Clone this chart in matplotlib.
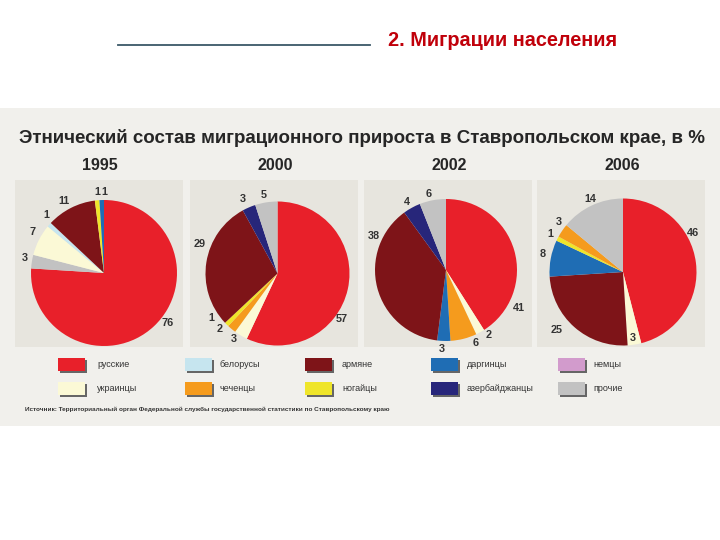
import numpy as np
import matplotlib
matplotlib.use("Agg")
import matplotlib.pyplot as plt
from matplotlib.patches import Rectangle

plt.rcParams['font.family'] = ['Liberation Sans', 'DejaVu Sans']

# --- data ---
colors = {
    'русские': '#e8202a',
    'украинцы': '#fbf9d6',
    'белорусы': '#c6e5ef',
    'чеченцы': '#f59b1d',
    'армяне': '#7e1418',
    'ногайцы': '#efe52a',
    'даргинцы': '#1f6db4',
    'азербайджанцы': '#27267a',
    'немцы': '#d29bcc',
    'прочие': '#c2c2c2',
}

years = ['1995', '2000', '2002', '2006']

# slices clockwise from 12 o'clock
groups_1995 = ['русские', 'прочие', 'украинцы', 'белорусы', 'армяне', 'ногайцы', 'даргинцы']
values_1995 = [76, 3, 7, 1, 11, 1, 1]

groups_2000 = ['русские', 'украинцы', 'чеченцы', 'ногайцы', 'армяне', 'азербайджанцы', 'прочие']
values_2000 = [57, 3, 2, 1, 29, 3, 5]

groups_2002 = ['русские', 'украинцы', 'чеченцы', 'даргинцы', 'армяне', 'азербайджанцы', 'прочие']
values_2002 = [41, 2, 6, 3, 38, 4, 6]

groups_2006 = ['русские', 'украинцы', 'армяне', 'даргинцы', 'ногайцы', 'чеченцы', 'прочие']
values_2006 = [46, 3, 25, 8, 1, 3, 14]

pie_groups = [groups_1995, groups_2000, groups_2002, groups_2006]
pie_values = [values_1995, values_2000, values_2002, values_2006]

legend_row1 = ['русские', 'белорусы', 'армяне', 'даргинцы', 'немцы']
legend_row2 = ['украинцы', 'чеченцы', 'ногайцы', 'азербайджанцы', 'прочие']

# --- layout (pixels) ---
W, H = 720, 540
# where the value labels sit around each pie (angle in degrees, distance in px)
label_angle = [
    [-38, 169, 150, 135, 119, 95, 90],
    [-35, -124, -136, -146, 159, 115, 100],
    [-28, -57, -68, -93, 155, 120, 103],
    [29, -82, -139, 167, 152, 142, 114],
]
label_dist = [
    [81, 81, 82, 82, 82, 81, 81],
    [79, 79, 80, 80, 83, 82, 80],
    [82, 78, 79, 79, 80, 78, 78],
    [80, 67, 88, 82, 82, 82, 80],
]

fig = plt.figure(figsize=(7.2, 5.4), dpi=100)
fig.patch.set_facecolor('white')

bg = fig.add_axes([0, 0, 1, 1])
bg.set_xlim(0, W)
bg.set_ylim(H, 0)
bg.axis('off')

# slide header
bg.plot([118, 370], [45, 45], color='#3b5868', lw=1.3)
bg.text(388, 41, '2. Миграции населения', color='#c0000a', fontsize=14.3,
        fontweight='bold', va='center', ha='left')

# picture panel
bg.add_patch(Rectangle((0, 108), W, 318, facecolor='#f1f0ec', edgecolor='none'))
bg.text(362, 138, 'Этнический состав миграционного прироста в Ставропольском крае, в %',
        color='#262626', fontsize=13.5, fontweight='bold', ha='center', va='center')

panel_x = [15, 190, 364, 537]
panel_w = 168
centers = [(104, 273), (277.5, 273.5), (446, 270), (623, 272)]
radii = [73, 72, 71, 73.5]

for i in range(4):
    bg.add_patch(Rectangle((panel_x[i], 180), panel_w, 167,
                           facecolor='#e7e5de', edgecolor='none'))
    bg.text(panel_x[i] + panel_w / 2 + 1, 166, years[i], fontsize=11.5,
            fontweight='bold', color='#262626', ha='center', va='center',
            family=['Liberation Sans Narrow', 'Liberation Sans'])

    cx, cy = centers[i]
    r = radii[i]
    ax = fig.add_axes([(cx - r) / W, 1 - (cy + r) / H, 2 * r / W, 2 * r / H])
    g = pie_groups[i]
    v = pie_values[i]
    ax.pie(v, colors=[colors[k] for k in g], startangle=90, counterclock=False,
           wedgeprops=dict(linewidth=0))
    for j, val in enumerate(v):
        a = np.radians(label_angle[i][j])
        d = label_dist[i][j] / r
        ax.text(d * np.cos(a), d * np.sin(a), str(val), fontsize=7.8,
                fontweight='bold', color='#333333', ha='center', va='center',
                zorder=5)
    ax.set_xlim(-1, 1)
    ax.set_ylim(-1, 1)
    ax.set_aspect('equal')
    ax.axis('off')

# legend
col_x = [58, 185, 305, 431, 558]
text_x = [97, 220, 342, 467, 593]
row_y = [358, 382]
for row, names in enumerate([legend_row1, legend_row2]):
    for j, name in enumerate(names):
        x0 = col_x[j]
        y0 = row_y[row]
        bg.add_patch(Rectangle((x0 + 1.5, y0 + 1.5), 27, 13, facecolor='#666666',
                               edgecolor='none'))
        bg.add_patch(Rectangle((x0, y0), 27, 13, facecolor=colors[name],
                               edgecolor='none'))
        bg.text(text_x[j], y0 + 6.5, name, fontsize=6.5, color='#333333',
                ha='left', va='center')

bg.text(25, 409, 'Источник: Территориальный орган Федеральной службы государственной '
        'статистики по Ставропольскому краю', fontsize=4.6, fontweight='bold',
        color='#333333', ha='left', va='center')

fig.savefig('out.png', dpi=100, facecolor='white')
